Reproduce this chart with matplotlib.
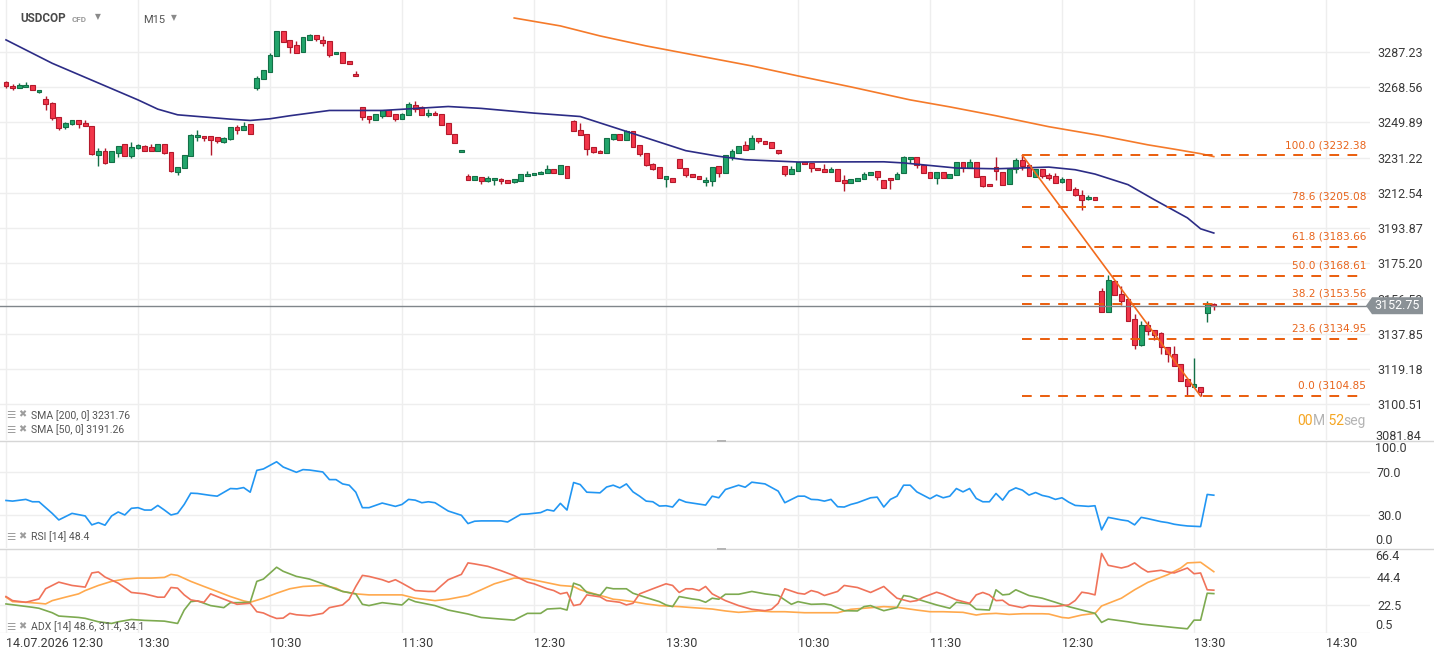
import matplotlib
matplotlib.use("Agg")
import matplotlib.pyplot as plt
from matplotlib.lines import Line2D
from matplotlib.patches import Polygon, Rectangle
import numpy as np

plt.rcParams['font.family'] = ['Roboto', 'DejaVu Sans']

# ---------------- data ----------------
opens = [3271.2, 3269.2, 3268.0, 3268.5, 3269.6, 3265.9, 3262.2, 3260.1, 3252.7, 3247.2,
         3249.0, 3250.9, 3249.5, 3247.9, 3232.6, 3234.7, 3228.9, 3233.4, 3238.4, 3231.9,
         3236.1, 3237.3, 3236.8, 3234.7, 3238.4, 3234.2, 3223.6, 3225.7, 3232.1, 3241.9,
         3242.6, 3242.6, 3242.1, 3239.3, 3241.1, 3247.4, 3246.1, 3249.0, 3268.3, 3273.1,
         3276.8, 3285.3, 3298.2, 3293.4, 3290.8, 3287.4, 3293.4, 3296.1, 3293.4, 3292.9,
         3286.0, 3287.1, 3282.3, 3275.4, 3258.0, 3253.2, 3251.1, 3253.5, 3256.4, 3254.3,
         3251.6, 3253.7, 3259.0, 3258.0, 3253.7, 3254.8, 3254.3, 3249.5, 3243.8, 3234.2,
         3221.3, 3219.5, 3220.9, 3218.8, 3219.4, 3219.9, 3219.4, 3218.3, 3218.8, 3221.5,
         3222.0, 3222.5, 3223.1, 3225.2, 3222.5, 3226.8, 3250.7, 3245.8, 3243.7, 3236.8,
         3234.7, 3233.7, 3241.0, 3243.7, 3240.5, 3245.3, 3237.9, 3233.7, 3227.8, 3226.2,
         3219.9, 3220.4, 3230.5, 3225.7, 3222.5, 3221.5, 3218.3, 3218.8, 3226.8, 3223.1,
         3231.5, 3233.7, 3237.9, 3235.8, 3241.6, 3240.0, 3239.5, 3235.2, 3226.8, 3222.5,
         3224.1, 3228.9, 3228.4, 3225.7, 3225.2, 3223.6, 3225.2, 3219.4, 3217.8, 3218.8,
         3219.9, 3222.0, 3224.1, 3219.4, 3220.4, 3219.9, 3223.1, 3230.5, 3231.5, 3227.3,
         3223.6, 3220.4, 3223.6, 3220.4, 3222.0, 3228.9, 3225.7, 3228.9, 3221.5, 3217.2,
         3226.2, 3223.6, 3217.3, 3225.2, 3230.1, 3227.3, 3220.9, 3225.2, 3222.0, 3221.6,
         3218.3, 3219.9, 3214.8, 3211.4, 3209.3, 3210.2, 3160.8, 3149.3, 3166.1, 3158.7,
         3156.4, 3145.8, 3131.9, 3142.7, 3140.0, 3138.4, 3131.0, 3127.3, 3122.0, 3114.1,
         3109.9, 3109.9, 3149.0, 3153.8]
highs = [3272.0, 3270.1, 3270.7, 3271.2, 3269.6, 3267.1, 3263.9, 3260.8, 3253.0, 3250.2,
         3250.9, 3250.9, 3251.1, 3248.2, 3236.3, 3236.3, 3234.7, 3237.4, 3238.4, 3239.6,
         3238.4, 3237.9, 3238.4, 3238.4, 3238.4, 3234.2, 3226.2, 3232.6, 3243.8, 3246.0,
         3242.6, 3242.6, 3242.1, 3242.1, 3247.4, 3248.5, 3250.2, 3249.0, 3274.2, 3277.7,
         3286.5, 3298.2, 3298.2, 3293.4, 3292.9, 3295.0, 3296.6, 3296.1, 3295.5, 3292.9,
         3287.1, 3287.1, 3282.3, 3277.0, 3258.0, 3253.2, 3254.3, 3256.4, 3256.4, 3254.3,
         3254.8, 3260.6, 3261.2, 3258.5, 3256.9, 3255.8, 3254.3, 3249.5, 3243.8, 3235.4,
         3222.5, 3221.5, 3220.9, 3221.5, 3220.4, 3220.4, 3219.4, 3219.9, 3222.5, 3224.1,
         3223.1, 3224.1, 3227.3, 3225.2, 3227.3, 3226.8, 3251.3, 3249.5, 3243.7, 3236.8,
         3235.2, 3241.6, 3243.7, 3243.7, 3246.0, 3245.3, 3237.9, 3233.7, 3228.4, 3226.2,
         3221.5, 3220.4, 3230.5, 3225.7, 3222.5, 3221.5, 3221.0, 3226.2, 3226.8, 3232.6,
         3235.8, 3237.4, 3240.0, 3243.2, 3241.6, 3240.0, 3239.5, 3235.2, 3226.8, 3226.8,
         3228.9, 3228.9, 3228.4, 3225.7, 3227.8, 3226.2, 3225.2, 3222.0, 3219.9, 3220.4,
         3223.4, 3223.6, 3224.1, 3219.4, 3220.4, 3223.6, 3232.1, 3231.5, 3231.5, 3227.3,
         3223.6, 3223.6, 3223.6, 3222.5, 3228.9, 3228.9, 3230.5, 3228.9, 3221.5, 3217.2,
         3231.5, 3223.6, 3225.2, 3231.0, 3232.38, 3227.3, 3225.2, 3225.2, 3223.1, 3223.1,
         3221.0, 3219.9, 3215.7, 3213.9, 3211.6, 3210.2, 3162.2, 3168.8, 3166.6, 3163.1,
         3156.4, 3148.6, 3144.6, 3144.9, 3140.0, 3139.0, 3131.0, 3131.4, 3122.0, 3114.1,
         3124.9, 3109.9, 3155.5, 3154.3]
lows = [3268.0, 3267.0, 3268.0, 3268.5, 3267.0, 3265.4, 3256.2, 3251.3, 3245.6, 3246.3,
        3248.5, 3246.7, 3247.9, 3232.8, 3226.6, 3227.6, 3228.9, 3231.8, 3232.1, 3230.8,
        3235.8, 3234.7, 3234.7, 3234.7, 3232.9, 3223.6, 3221.8, 3225.7, 3232.1, 3239.8,
        3239.8, 3232.4, 3238.9, 3238.7, 3240.5, 3243.5, 3245.6, 3243.7, 3267.1, 3273.1,
        3276.8, 3285.3, 3292.7, 3286.9, 3286.9, 3287.4, 3293.4, 3292.9, 3290.6, 3284.7,
        3286.0, 3281.6, 3281.0, 3274.2, 3251.3, 3249.8, 3251.1, 3252.0, 3253.5, 3250.4,
        3251.6, 3253.7, 3255.3, 3253.7, 3252.7, 3253.7, 3248.4, 3243.7, 3238.9, 3234.2,
        3219.5, 3219.5, 3217.3, 3218.3, 3216.7, 3217.3, 3217.8, 3217.8, 3218.8, 3221.5,
        3222.0, 3222.5, 3223.1, 3223.1, 3222.5, 3220.4, 3245.1, 3243.2, 3232.6, 3233.7,
        3233.7, 3233.7, 3240.5, 3240.5, 3240.5, 3236.8, 3232.1, 3226.6, 3224.7, 3220.4,
        3215.7, 3218.3, 3225.7, 3221.0, 3221.0, 3219.9, 3216.2, 3216.2, 3221.0, 3223.1,
        3229.9, 3233.7, 3235.2, 3235.8, 3238.9, 3238.4, 3236.3, 3233.2, 3221.5, 3222.5,
        3224.1, 3227.8, 3223.6, 3224.7, 3223.6, 3223.6, 3218.8, 3213.5, 3217.8, 3218.8,
        3219.9, 3222.0, 3219.4, 3215.2, 3214.6, 3219.9, 3223.1, 3228.4, 3225.7, 3223.1,
        3220.4, 3217.3, 3220.4, 3220.4, 3222.0, 3223.6, 3225.7, 3220.9, 3215.7, 3216.2,
        3219.4, 3216.5, 3217.3, 3223.1, 3224.5, 3221.3, 3220.9, 3220.2, 3219.5, 3217.8,
        3217.8, 3213.9, 3210.7, 3203.7, 3208.6, 3208.8, 3149.3, 3149.3, 3158.5, 3152.9,
        3144.6, 3129.6, 3131.4, 3137.0, 3134.5, 3127.3, 3122.9, 3120.8, 3113.1, 3105.0,
        3109.9, 3104.85, 3144.1, 3150.4]
closes = [3269.1, 3268.0, 3269.6, 3269.8, 3267.0, 3267.1, 3259.6, 3252.0, 3246.9, 3249.5,
          3250.9, 3249.0, 3247.9, 3233.1, 3234.7, 3228.2, 3234.7, 3237.4, 3232.1, 3236.8,
          3237.9, 3234.7, 3234.7, 3238.4, 3233.7, 3224.3, 3226.2, 3232.6, 3243.2, 3243.2,
          3241.4, 3240.8, 3239.8, 3241.6, 3247.4, 3245.6, 3247.9, 3243.7, 3273.3, 3277.7,
          3285.6, 3298.2, 3292.7, 3290.0, 3286.9, 3295.0, 3296.1, 3293.9, 3292.2, 3285.8,
          3287.1, 3281.6, 3281.0, 3274.2, 3252.5, 3251.6, 3254.3, 3256.4, 3253.5, 3251.6,
          3254.3, 3259.6, 3256.9, 3253.7, 3254.8, 3253.7, 3248.4, 3243.7, 3238.9, 3235.4,
          3219.5, 3221.5, 3218.8, 3220.4, 3220.4, 3218.8, 3217.8, 3219.9, 3222.5, 3222.5,
          3223.1, 3223.6, 3225.2, 3223.1, 3227.3, 3220.4, 3245.1, 3243.2, 3235.8, 3234.2,
          3233.7, 3241.6, 3243.7, 3240.5, 3245.3, 3236.8, 3233.1, 3227.3, 3225.2, 3220.4,
          3221.5, 3218.3, 3225.7, 3222.0, 3221.0, 3219.9, 3219.4, 3226.2, 3223.1, 3232.6,
          3234.7, 3237.4, 3235.2, 3241.6, 3240.0, 3238.4, 3236.3, 3233.7, 3222.5, 3225.2,
          3228.9, 3227.8, 3225.7, 3224.7, 3223.6, 3225.2, 3218.8, 3217.8, 3219.9, 3220.4,
          3222.5, 3223.6, 3221.0, 3215.2, 3219.4, 3222.5, 3231.5, 3231.5, 3227.3, 3223.1,
          3220.4, 3223.6, 3220.4, 3222.5, 3228.9, 3225.7, 3228.9, 3220.9, 3216.2, 3216.2,
          3224.1, 3216.5, 3225.2, 3230.1, 3226.6, 3221.3, 3225.2, 3221.3, 3220.2, 3217.8,
          3219.9, 3213.9, 3211.2, 3208.6, 3210.4, 3208.8, 3149.3, 3166.6, 3158.5, 3155.2,
          3144.6, 3131.9, 3142.7, 3139.3, 3137.0, 3131.0, 3127.0, 3120.8, 3113.1, 3110.2,
          3111.1, 3107.2, 3153.8, 3152.75]

sma50_idx = [0, 7, 20, 23, 26, 34, 37, 40, 43, 49, 57, 67, 72, 80, 87, 94, 103, 108, 112, 120,
             133, 136, 144, 150, 158, 162, 165, 170, 174, 179, 181, 183]
sma50_val = [3293.6, 3281.2, 3261.8, 3256.9, 3253.9, 3251.6, 3250.9, 3251.8, 3253.4, 3256.2,
             3256.2, 3258.3, 3257.3, 3254.8, 3253.0, 3245.1, 3234.9, 3231.9, 3230.1, 3228.9,
             3229.0, 3228.4, 3225.7, 3225.3, 3226.2, 3224.8, 3222.5, 3216.9, 3208.9, 3199.3,
             3193.5, 3191.26]
sma200_idx = [77, 84, 90, 97, 105, 113, 120, 128, 137, 143, 150, 158, 166, 173, 177, 181, 183]
sma200_val = [3305.2, 3301.0, 3295.7, 3290.4, 3285.1, 3279.8, 3274.5, 3268.7, 3261.8, 3258.1,
              3253.4, 3247.6, 3242.8, 3238.0, 3235.7, 3233.3, 3231.76]

rsi_idx = [0, 1, 3, 4, 5, 7, 8, 10, 12, 13, 14, 15, 16, 17, 18, 19, 20, 21, 22, 23, 24, 25, 26,
           27, 28, 29, 31, 32, 34, 35, 36, 37, 38, 39, 41, 42, 44, 45, 46, 48, 49, 50, 51, 52,
           53, 54, 55, 57, 59, 60, 61, 62, 63, 64, 65, 67, 69, 70, 71, 72, 75, 76, 78, 79, 81,
           82, 83, 84, 85, 86, 87, 88, 90, 91, 92, 93, 94, 95, 96, 97, 98, 99, 100, 101, 102,
           103, 106, 107, 108, 109, 111, 112, 113, 115, 117, 118, 120, 121, 122, 123, 124, 125,
           126, 127, 128, 129, 131, 132, 133, 134, 135, 136, 137, 138, 140, 141, 142, 143, 144,
           145, 146, 147, 148, 149, 150, 151, 152, 153, 154, 155, 156, 157, 158, 159, 160, 161,
           162, 164, 165, 166, 167, 169, 170, 171, 172, 173, 175, 176, 177, 178, 179, 180, 181,
           182, 183]
rsi_val = [43.5, 42.9, 44.5, 42.3, 42.3, 31.5, 25.4, 31.5, 29.1, 20.8, 22.9, 20.5, 29.1, 32.8,
           30.0, 36.2, 36.8, 34.6, 34.6, 38.9, 34.6, 30.0, 31.5, 39.8, 50.3, 50.0, 48.2, 47.5,
           54.6, 54.3, 55.5, 51.2, 71.5, 72.8, 79.5, 74.6, 69.7, 72.2, 71.8, 70.0, 62.9, 62.9,
           58.9, 57.7, 51.2, 36.8, 36.8, 41.1, 38.0, 39.8, 44.5, 43.8, 41.4, 42.3, 41.4, 33.7,
           29.7, 22.0, 24.2, 24.5, 24.5, 23.5, 30.6, 30.9, 32.2, 34.9, 33.7, 40.8, 34.6, 60.2,
           58.3, 51.2, 50.6, 56.0, 57.7, 55.2, 58.9, 51.5, 47.5, 42.9, 42.3, 38.3, 38.6, 37.4,
           44.5, 42.0, 39.2, 47.5, 46.0, 53.7, 57.7, 55.8, 60.5, 58.9, 52.2, 41.4, 47.5, 47.5,
           44.5, 44.2, 42.9, 44.5, 37.7, 37.4, 39.8, 41.4, 46.0, 46.6, 37.4, 44.5, 47.5, 57.7,
           57.7, 51.5, 45.1, 48.5, 46.0, 47.5, 54.6, 51.5, 54.6, 45.4, 42.3, 42.3, 50.0, 43.8,
           52.2, 55.2, 53.1, 48.5, 50.9, 48.2, 46.9, 44.5, 46.0, 42.0, 38.9, 38.0, 38.6, 16.2,
           27.8, 25.4, 24.5, 20.8, 27.8, 26.6, 23.8, 22.9, 21.4, 20.5, 19.8, 19.5, 19.2, 49.1,
           48.4]

adx_idx = [0, 1, 3, 5, 6, 7, 9, 11, 12, 14, 16, 18, 20, 22, 24, 25, 26, 28, 30, 32, 34, 36, 37,
           39, 41, 43, 45, 48, 50, 51, 53, 55, 58, 60, 62, 65, 67, 70, 72, 74, 77, 79, 81, 84,
           86, 87, 90, 91, 92, 93, 95, 97, 99, 102, 104, 107, 109, 111, 114, 116, 118, 121, 123,
           126, 128, 130, 133, 135, 138, 140, 142, 145, 147, 148, 150, 152, 154, 157, 158, 160,
           161, 163, 165, 166, 169, 171, 173, 176, 178, 179, 181, 182, 183]
adx_val = [28.6, 25.1, 24.6, 23.8, 23.3, 25.9, 28.6, 31.2, 33.8, 37.8, 41.0, 42.8, 43.6, 43.6,
           44.1, 46.5, 45.7, 41.0, 37.0, 33.1, 29.1, 25.7, 24.6, 27.8, 31.7, 35.2, 37.0, 37.8,
           35.7, 33.1, 31.2, 30.4, 30.4, 30.4, 27.8, 25.9, 27.0, 29.9, 34.4, 39.1, 43.6, 43.1,
           41.0, 37.8, 37.0, 34.4, 30.0, 28.6, 27.0, 26.5, 25.1, 23.3, 22.0, 21.2, 20.4, 19.3,
           17.8, 16.7, 17.8, 17.2, 17.2, 16.4, 16.4, 16.4, 19.1, 19.9, 21.2, 20.7, 18.5, 17.2,
           17.2, 16.7, 14.6, 15.4, 15.9, 15.1, 15.6, 15.6, 15.4, 12.7, 12.2, 14.6, 15.9, 21.7,
           27.8, 34.4, 40.2, 46.2, 51.5, 55.5, 56.0, 52.3, 48.6]

pdi_idx = [0, 2, 4, 5, 7, 8, 11, 12, 14, 16, 17, 19, 21, 24, 26, 27, 28, 29, 31, 33, 34, 35, 37,
           38, 39, 41, 42, 44, 46, 48, 50, 51, 53, 54, 55, 57, 60, 61, 62, 65, 67, 70, 72, 75,
           77, 78, 79, 81, 82, 84, 85, 86, 87, 88, 90, 91, 92, 94, 95, 97, 99, 100, 101, 102,
           104, 105, 106, 107, 108, 109, 111, 113, 115, 117, 119, 120, 122, 124, 125, 127, 129,
           130, 131, 132, 133, 135, 136, 137, 138, 141, 143, 144, 146, 147, 149, 150, 151, 152,
           153, 155, 157, 159, 161, 164, 165, 166, 167, 170, 172, 175, 177, 179, 180, 181, 182,
           183]
pdi_val = [23.3, 22.0, 20.7, 19.9, 16.4, 13.8, 12.7, 12.0, 9.3, 8.0, 9.3, 11.1, 10.4, 9.8, 8.0,
           18.5, 25.1, 25.7, 22.0, 20.4, 24.3, 24.3, 24.6, 41.0, 42.8, 52.1, 48.9, 44.9, 42.8,
           39.1, 34.9, 33.1, 31.2, 23.0, 22.0, 24.3, 22.5, 27.2, 25.1, 22.0, 18.5, 15.4, 12.7,
           11.4, 10.6, 13.3, 15.9, 15.9, 19.3, 19.9, 18.5, 39.6, 37.8, 32.3, 29.9, 36.2, 35.2,
           35.2, 31.7, 28.3, 25.1, 22.5, 21.2, 29.1, 27.2, 26.5, 24.6, 27.8, 27.0, 30.9, 30.9,
           33.1, 31.2, 29.9, 23.0, 25.1, 23.0, 23.3, 22.5, 18.0, 17.8, 21.2, 22.0, 19.9, 18.0,
           20.4, 29.9, 29.1, 27.2, 22.5, 19.9, 24.6, 23.3, 19.1, 18.5, 34.4, 30.4, 30.9, 34.4,
           29.9, 27.8, 24.6, 21.2, 17.2, 15.9, 8.8, 11.4, 9.3, 7.5, 5.9, 4.8, 3.8, 10.6, 10.6,
           31.7, 31.4]

mdi_idx = [0, 1, 3, 5, 6, 8, 10, 12, 13, 14, 15, 17, 19, 21, 23, 24, 25, 26, 27, 28, 30, 31, 32,
           34, 35, 37, 38, 39, 40, 41, 42, 43, 44, 46, 48, 49, 51, 52, 53, 54, 55, 57, 58, 59,
           60, 62, 64, 65, 66, 67, 69, 70, 71, 73, 75, 77, 79, 80, 82, 83, 84, 85, 86, 87, 88,
           90, 91, 93, 94, 95, 96, 98, 100, 101, 102, 103, 104, 105, 106, 107, 109, 111, 113,
           115, 116, 117, 118, 120, 121, 122, 123, 124, 126, 127, 129, 131, 133, 134, 135, 137,
           138, 139, 141, 142, 144, 146, 147, 148, 149, 150, 151, 152, 154, 155, 157, 159, 161,
           162, 163, 164, 165, 166, 167, 169, 170, 171, 172, 173, 175, 176, 177, 179, 180, 181,
           182, 183]
mdi_val = [29.1, 25.9, 24.6, 27.2, 35.2, 40.4, 37.8, 36.5, 47.6, 48.4, 44.4, 39.6, 32.3, 31.2,
           28.6, 28.6, 36.2, 35.7, 30.4, 26.5, 24.6, 31.2, 29.1, 25.1, 23.0, 23.8, 17.2, 16.2,
           13.8, 11.9, 12.2, 15.9, 14.8, 14.0, 15.9, 20.4, 22.5, 27.0, 37.0, 45.7, 44.9, 42.3,
           40.4, 42.3, 39.6, 33.8, 33.1, 33.1, 37.8, 42.3, 46.5, 55.5, 54.7, 52.8, 49.4, 45.5,
           40.4, 39.1, 35.2, 33.8, 31.2, 32.3, 22.0, 23.0, 30.4, 28.9, 25.9, 24.6, 22.5, 23.8,
           31.2, 35.2, 39.1, 37.8, 32.3, 35.2, 35.2, 33.8, 37.0, 31.2, 25.9, 22.0, 19.1, 18.0,
           19.1, 23.8, 35.2, 31.7, 31.0, 33.8, 32.5, 29.9, 33.1, 37.8, 36.2, 32.3, 37.0, 32.3,
           27.8, 25.1, 25.9, 28.6, 32.5, 30.9, 26.5, 23.8, 30.4, 32.3, 30.4, 25.9, 26.2, 22.5,
           20.4, 22.0, 21.4, 21.4, 22.5, 26.0, 32.5, 31.7, 30.4, 62.9, 53.6, 51.5, 52.8, 55.5,
           51.5, 48.4, 49.7, 48.4, 47.6, 51.5, 47.0, 47.6, 34.4, 34.1]

price_levels = [3100.51, 3119.18, 3137.85, 3156.53, 3175.20, 3193.87, 3212.54,
                3231.22, 3249.89, 3268.56, 3287.23]
price_floor = 3081.84
fib_pct = [100.0, 78.6, 61.8, 50.0, 38.2, 23.6, 0.0]
fib_val = [3232.38, 3205.08, 3183.66, 3168.61, 3153.56, 3134.95, 3104.85]
fib_start, fib_end = 154, 181
time_labels = ["14.07.2026 12:30", "13:30", "10:30", "11:30", "12:30", "13:30",
               "10:30", "11:30", "12:30", "13:30", "14:30"]
current_price = 3152.75

# ---------------- layout ----------------
W, H = 1434, 659
fig = plt.figure(figsize=(W / 100, H / 100), dpi=100)
fig.patch.set_facecolor('white')


def px_axes(x0, y0, x1, y1):
    return fig.add_axes([x0 / W, 1 - y1 / H, (x1 - x0) / W, (y1 - y0) / H])


def fx(x):
    return x / W


def fy(y):
    return 1 - y / H


PLOT_R = 1370
STEP = 6.6
ax = px_axes(0, 0, PLOT_R, 440)
ax_rsi = px_axes(0, 441, PLOT_R, 548)
ax_adx = px_axes(0, 549, PLOT_R, 633)

GRID = '#eeeeee'
LBL = '#3a3a3a'
grid_idx = list(range(0, 201, 20))

for a in (ax, ax_rsi, ax_adx):
    a.set_xlim(-6 / STEP, (PLOT_R - 6) / STEP)
    for s in a.spines.values():
        s.set_visible(False)
    a.set_xticks(grid_idx)
    a.grid(axis='x', color=GRID, lw=1)
    a.grid(axis='y', color=GRID, lw=1)
    a.set_axisbelow(True)
    a.yaxis.tick_right()
    a.tick_params(axis='both', length=0, labelsize=9, colors=LBL)
    a.tick_params(axis='y', pad=5)
    a.set_facecolor('white')

ax.tick_params(axis='x', labelbottom=False)
ax_rsi.tick_params(axis='x', labelbottom=False)
ax_adx.set_xticklabels(time_labels)
ax_adx.tick_params(axis='x', pad=3, labelsize=9, colors=LBL)
for t in ax_adx.get_xticklabels():
    t.set_ha('left')

# ---------------- main price panel ----------------
o = np.array(opens)
h = np.array(highs)
l = np.array(lows)
c = np.array(closes)
idx = np.arange(len(o))
up = c >= o
fill = np.where(up, '#22a56b', '#f2364a')
edge = np.where(up, '#137047', '#b3192b')
ax.vlines(idx, l, h, colors=edge, lw=1, zorder=3)
ax.bar(idx, np.maximum(np.abs(c - o), 0.8), bottom=np.minimum(o, c), width=0.72,
       color=fill, edgecolor=edge, linewidth=0.8, zorder=4)

ax.plot(sma50_idx, sma50_val, color='#2c2c86', lw=1.2, zorder=5)
ax.plot(sma200_idx, sma200_val, color='#f57a2a', lw=1.2, zorder=5)

ax.set_ylim(3081.6, 3314.73)
ax.set_yticks(price_levels)
ax.set_yticklabels([f"{v:.2f}" for v in price_levels])
ax.annotate(f"{price_floor:.2f}", xy=(1, price_floor), xycoords=('axes fraction', 'data'),
            xytext=(3.6, 2.2), textcoords='offset points', ha='left', va='center',
            fontsize=9, color=LBL, annotation_clip=False)

# fibonacci
fib_x_end = (1363 - 6) / STEP
ax.hlines(fib_val, fib_start, fib_x_end, colors='#ea5d0c', lw=1.4,
          linestyles=(0, (5, 4.3)), zorder=6)
for p, v in zip(fib_pct, fib_val):
    ax.annotate(f"{p:.1f} ({v:.2f}", xy=(fib_x_end + 0.5, v), xytext=(0, 7.5),
                textcoords='offset points', ha='right', va='center', fontsize=7.6,
                color='#e8641b', family=['DejaVu Sans'], zorder=7)
ax.plot([fib_start, fib_end], [fib_val[0], fib_val[-1]], color='#f26b1d', lw=1.2, zorder=6)

# current price
ax.axhline(current_price, color='#80868b', lw=1, zorder=5)
yc = H - ax.transData.transform((0, current_price))[1]
tag = [(1366, yc), (1372, yc - 8.5), (1423, yc - 8.5), (1423, yc + 8.5), (1372, yc + 8.5)]
fig.add_artist(Polygon([(fx(x), fy(y)) for x, y in tag], closed=True,
                       facecolor='#8a9196', edgecolor='none', zorder=5))
fig.text(fx(1397.5), fy(yc), f"{current_price:.2f}", color='white', fontsize=9,
         ha='center', va='center', zorder=6)

# ---------------- RSI ----------------
ax_rsi.plot(rsi_idx, rsi_val, color='#2196f3', lw=1.2)
ax_rsi.set_ylim(-0.7, 98.8)
ax_rsi.set_yticks([30, 70])
ax_rsi.set_yticklabels(["30.0", "70.0"])

# ---------------- ADX ----------------
ax_adx.plot(adx_idx, adx_val, color='#ffa94d', lw=1.2)
ax_adx.plot(pdi_idx, pdi_val, color='#7daa50', lw=1.2)
ax_adx.plot(mdi_idx, mdi_val, color='#f0735a', lw=1.2)
ax_adx.set_ylim(0.5, 66.4)
ax_adx.set_yticks([0.5, 22.5, 44.4])
ax_adx.set_yticklabels(["", "22.5", "44.4"])

# end labels of the small panels
for a, top, bot in ((ax_rsi, "100.0", "0.0"), (ax_adx, "66.4", "0.5")):
    a.annotate(top, xy=(1, 1), xycoords='axes fraction', xytext=(3.6, -0.5),
               textcoords='offset points', ha='left', va='top', fontsize=9, color=LBL,
               annotation_clip=False)
    a.annotate(bot, xy=(1, 0), xycoords='axes fraction', xytext=(3.6, 0.5),
               textcoords='offset points', ha='left', va='bottom', fontsize=9, color=LBL,
               annotation_clip=False)

# ---------------- separators ----------------
for ysep in (440.5, 548.5):
    fig.add_artist(Line2D([0, 1], [fy(ysep), fy(ysep)], color='#d6d6d6', lw=1, zorder=2))
    fig.add_artist(Rectangle((fx(717), fy(ysep + 1)), 9 / W, 2 / H,
                             facecolor='#b5b5b5', edgecolor='none', zorder=3))

# ---------------- header ----------------
fig.text(fx(20), fy(18), "USDCOP", fontsize=8.5, weight='bold', color='#4a4a4a',
         ha='left', va='center')
fig.text(fx(72), fy(19), "CFD", fontsize=5.8, weight='bold', color='#9a9a9a',
         ha='left', va='center')
fig.text(fx(98), fy(16.5), "▼", fontsize=5.5, color='#8a8a8a', ha='center', va='center',
         family=['DejaVu Sans'])
fig.text(fx(143), fy(20), "M15", fontsize=8, color='#555555', ha='left', va='center')
fig.text(fx(174), fy(17.5), "▼", fontsize=5.5, color='#8a8a8a', ha='center', va='center',
         family=['DejaVu Sans'])

# ---------------- legends ----------------
legend_rows = [
    (415.5, f"SMA [200, 0] {sma200_val[-1]:.2f}"),
    (430, f"SMA [50, 0] {sma50_val[-1]:.2f}"),
    (537, f"RSI [14] {rsi_val[-1]:.1f}"),
    (627, f"ADX [14] {adx_val[-1]:.1f}, {pdi_val[-1]:.1f}, {mdi_val[-1]:.1f}"),
]
for yl, txt in legend_rows:
    fig.text(fx(6), fy(yl), "☰", fontsize=7.5, color='#9d9d9d', ha='left', va='center',
             family=['DejaVu Sans'])
    fig.text(fx(18), fy(yl - 1), "✖", fontsize=7, color='#9d9d9d', ha='left', va='center',
             family=['DejaVu Sans'])
    fig.text(fx(31), fy(yl), txt, fontsize=7.6, color='#555555', ha='left', va='center')

# ---------------- countdown ----------------
ORANGE, GREY = '#f5a623', '#b4b4b4'
t = fig.text(fx(1297), fy(421), "00", color=ORANGE, fontsize=10, ha='left', va='center')
for s, col in (("M", GREY), (" 52", ORANGE), ("seg", GREY)):
    t = ax.annotate(s, xy=(1, 0.5), xycoords=t, ha='left', va='center', color=col,
                    fontsize=10, annotation_clip=False)

fig.savefig("out.png", dpi=100, facecolor='white')
